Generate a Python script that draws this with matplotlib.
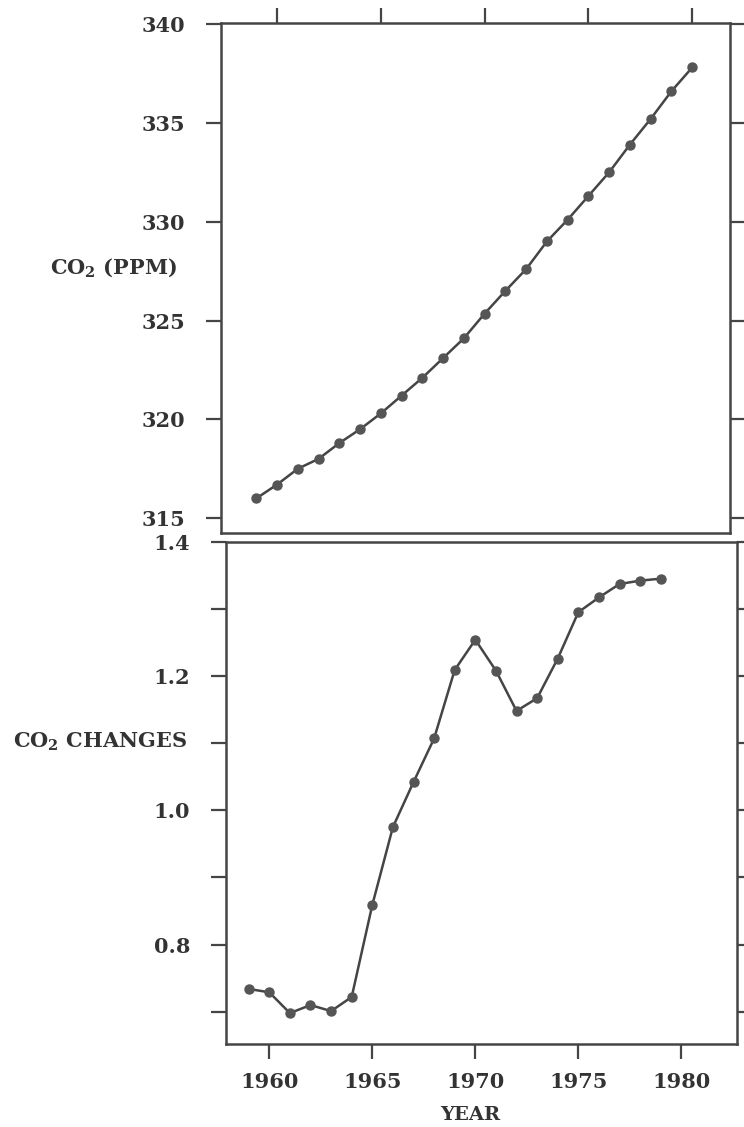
import matplotlib
matplotlib.use("Agg")
import matplotlib.pyplot as plt
from matplotlib.ticker import FixedLocator, FormatStrFormatter

# data
years_ppm = [1959, 1960, 1961, 1962, 1963, 1964, 1965, 1966, 1967, 1968, 1969,
             1970, 1971, 1972, 1973, 1974, 1975, 1976, 1977, 1978, 1979, 1980]
co2_ppm = [316.0, 316.7, 317.5, 318.0, 318.8, 319.5, 320.3, 321.2, 322.1, 323.1, 324.1,
           325.35, 326.5, 327.6, 329.0, 330.1, 331.3, 332.5, 333.9, 335.2, 336.6, 337.8]

years_chg = [1959, 1960, 1961, 1962, 1963, 1964, 1965, 1966, 1967, 1968, 1969,
             1970, 1971, 1972, 1973, 1974, 1975, 1976, 1977, 1978, 1979]
co2_change = [0.734, 0.729, 0.698, 0.710, 0.701, 0.722, 0.859, 0.975, 1.042, 1.107, 1.209,
              1.254, 1.208, 1.148, 1.167, 1.226, 1.295, 1.317, 1.337, 1.342, 1.345]

year_ticks = [1960, 1965, 1970, 1975, 1980]
ppm_ticks = [315, 320, 325, 330, 335, 340]
chg_major = [0.8, 1.0, 1.2, 1.4]
chg_minor = [0.7, 0.9, 1.1, 1.3]

ink = "#454545"
txt = "#333333"

plt.rcParams["font.family"] = "DejaVu Serif"
plt.rcParams["font.weight"] = "bold"
plt.rcParams["mathtext.fontset"] = "custom"
plt.rcParams["mathtext.rm"] = "DejaVu Serif:bold"
plt.rcParams["mathtext.it"] = "DejaVu Serif:bold"

fig = plt.figure(figsize=(7.44, 11.27), dpi=100)
W, H = 744.0, 1127.0

# axes placed in pixel coords of the reference (the scan is slightly skewed)
ax1 = fig.add_axes([221 / W, 1 - 533 / H, (730 - 221) / W, (533 - 23) / H])
ax2 = fig.add_axes([226 / W, 1 - 1044 / H, (737 - 226) / W, (1044 - 541.7) / H])


def style_axes(ax):
    for sp in ax.spines.values():
        sp.set_color(ink)
        sp.set_linewidth(1.8)
    ax.tick_params(which="both", direction="out", length=11, width=1.6,
                   color=ink, labelcolor=txt, labelsize=15)


# top panel: CO2 concentration
ax1.plot(years_ppm, co2_ppm, color=ink, lw=1.8, marker="o", ms=6.5,
         mfc="#555555", mec="#555555")
ax1.set_xlim(1957.3, 1981.82)
ax1.set_ylim(314.25, 340.05)
ax1.set_xticks(year_ticks)
ax1.set_yticks(ppm_ticks)
style_axes(ax1)
ax1.tick_params(axis="x", bottom=False, top=True, labelbottom=False, labeltop=False)
ax1.tick_params(axis="y", left=True, right=True, labelleft=True, pad=15)

# bottom panel: CO2 changes
ax2.plot(years_chg, co2_change, color=ink, lw=1.8, marker="o", ms=6.5,
         mfc="#555555", mec="#555555")
ax2.set_xlim(1957.9, 1982.7)
ax2.set_ylim(0.652, 1.4)
ax2.set_xticks(year_ticks)
ax2.yaxis.set_major_locator(FixedLocator(chg_major))
ax2.yaxis.set_minor_locator(FixedLocator(chg_minor))
ax2.yaxis.set_major_formatter(FormatStrFormatter("%.1f"))
style_axes(ax2)
ax2.tick_params(axis="x", bottom=True, top=False, pad=9)
ax2.tick_params(axis="y", which="both", left=True, right=True, pad=15)

# labels
fig.text(114 / W, 1 - 268 / H, r"CO$_2$ (PPM)", ha="center", va="center",
         fontsize=15, color=txt, fontweight="bold")
fig.text(100 / W, 1 - 742 / H, r"CO$_2$ CHANGES", ha="center", va="center",
         fontsize=15, color=txt, fontweight="bold")
fig.text(470 / W, 1 - 1115 / H, "YEAR", ha="center", va="center",
         fontsize=14, color=txt, fontweight="bold")

fig.savefig("out.png", dpi=100, facecolor="white")
